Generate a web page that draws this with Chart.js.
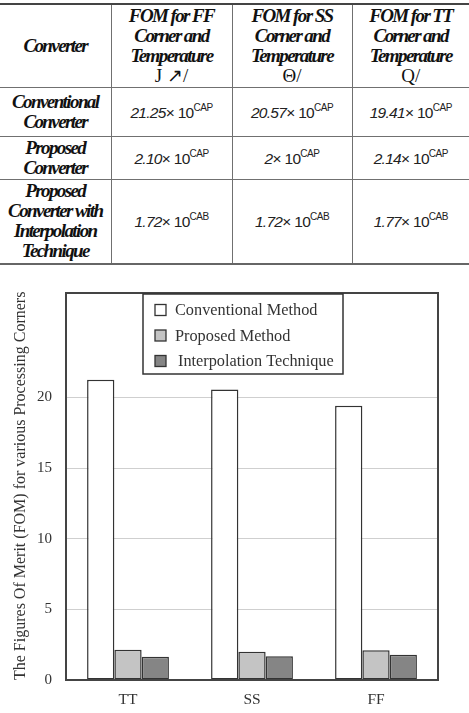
<!DOCTYPE html>
<html>
<head>
<meta charset="utf-8">
<script src="https://cdn.jsdelivr.net/npm/chart.js@4.4.1/dist/chart.umd.min.js"></script>
<style>
  html, body { margin: 0; padding: 0; background: #fff; width: 469px; height: 713px; overflow: hidden; }
  #tbl { position: absolute; left: 0; top: 3px; width: 469px; border-collapse: collapse; table-layout: fixed; }
  #tbl td, #tbl th { border: 1.5px solid #707070; text-align: center; vertical-align: middle; padding: 0; }
  #tbl tr:first-child th { border-top: 2px solid #444; }
  #tbl tr:last-child td, #tbl tr:last-child th { border-bottom: 2px solid #666; }
  #tbl th:first-child, #tbl td:first-child { border-left: none; }
  #tbl th:last-child, #tbl td:last-child { border-right: none; }
  .hd { font-family: "Liberation Serif", serif; font-weight: bold; font-style: italic; font-size: 19px; line-height: 20px; letter-spacing: -1.6px; color: #111; white-space: nowrap; }
  .sym { font-style: normal; font-weight: normal; letter-spacing: 0; }
  .val { font-family: "Liberation Sans", sans-serif; font-size: 15.5px; color: #222; letter-spacing: -0.7px; font-weight: normal; white-space: nowrap; }
  .val i { font-style: italic; }
  .val sup { font-size: 10px; vertical-align: 7px; letter-spacing: -0.5px; }
  #wrap { position: absolute; left: 0; top: 270px; width: 469px; height: 443px; }
</style>
</head>
<body>
<table id="tbl">
  <colgroup><col style="width:111px"><col style="width:121px"><col style="width:120px"><col style="width:117px"></colgroup>
  <tr style="height:83px">
    <th class="hd">Converter</th>
    <th class="hd">FOM for FF<br>Corner and<br>Temperature<br><span class="sym">J ↗/</span></th>
    <th class="hd">FOM for SS<br>Corner and<br>Temperature<br><span class="sym">Θ/</span></th>
    <th class="hd">FOM for TT<br>Corner and<br>Temperature<br><span class="sym">Q/</span></th>
  </tr>
  <tr style="height:49px">
    <th class="hd">Conventional<br>Converter</th>
    <td class="val"><i>21.25</i>× 10<sup>CAP</sup></td>
    <td class="val"><i>20.57</i>× 10<sup>CAP</sup></td>
    <td class="val"><i>19.41</i>× 10<sup>CAP</sup></td>
  </tr>
  <tr style="height:43px">
    <th class="hd">Proposed<br>Converter</th>
    <td class="val"><i>2.10</i>× 10<sup>CAP</sup></td>
    <td class="val"><i>2</i>× 10<sup>CAP</sup></td>
    <td class="val"><i>2.14</i>× 10<sup>CAP</sup></td>
  </tr>
  <tr style="height:85px">
    <th class="hd">Proposed<br>Converter with<br>Interpolation<br>Technique</th>
    <td class="val"><i>1.72</i>× 10<sup>CAB</sup></td>
    <td class="val"><i>1.72</i>× 10<sup>CAB</sup></td>
    <td class="val"><i>1.77</i>× 10<sup>CAB</sup></td>
  </tr>
</table>
<div id="wrap"><canvas id="c" width="469" height="443"></canvas></div>
<script>
const categories = ["TT", "SS", "FF"];
const seriesNames = ["Conventional Method", "Proposed Method", "Interpolation Technique"];
const conventional = [21.25, 20.57, 19.41];
const proposed = [2.14, 2.0, 2.10];
const interpolation = [1.65, 1.68, 1.79];
const yTicks = [0, 5, 10, 15, 20];
const yTitle = "The Figures Of Merit (FOM) for various Processing Corners";

const fills = ["#ffffff", "#c4c4c4", "#858585"];
const SERIF = '"Liberation Serif", "Times New Roman", serif';

const frameAndLegend = {
  id: "frameAndLegend",
  afterDraw(chart) {
    const ctx = chart.ctx;
    const a = chart.chartArea;
    ctx.save();
    ctx.strokeStyle = "#444";
    ctx.lineWidth = 2;
    ctx.strokeRect(a.left, a.top, a.right - a.left, a.bottom - a.top);
    // legend box
    const lx = 143, ly = 24, lw = 200, lh = 80;
    ctx.fillStyle = "#fff";
    ctx.fillRect(lx, ly, lw, lh);
    ctx.strokeStyle = "#333";
    ctx.lineWidth = 1.5;
    ctx.strokeRect(lx, ly, lw, lh);
    ctx.font = "16.3px " + SERIF;
    ctx.textBaseline = "middle";
    chart.data.datasets.forEach((ds, i) => {
      const cy = ly + 16 + i * 25.5;
      ctx.fillStyle = ds.backgroundColor;
      ctx.fillRect(lx + 12, cy - 5.5, 11, 11);
      ctx.strokeStyle = "#333";
      ctx.lineWidth = 1.3;
      ctx.strokeRect(lx + 12, cy - 5.5, 11, 11);
      ctx.fillStyle = "#333";
      ctx.fillText(ds.label, lx + 32 + (i === 2 ? 3 : 0), cy + 1);
    });
    ctx.restore();
  }
};

new Chart(document.getElementById("c"), {
  type: "bar",
  data: {
    labels: categories,
    datasets: [conventional, proposed, interpolation].map((d, i) => ({
      label: seriesNames[i],
      data: d,
      backgroundColor: fills[i],
      borderColor: "#333",
      borderWidth: 1.5,
      borderSkipped: false,
      categoryPercentage: 0.66,
      barPercentage: 1.0
    }))
  },
  options: {
    responsive: false,
    animation: false,
    events: [],
    layout: { padding: { top: 17, right: 31, left: 0, bottom: 0 } },
    plugins: { legend: { display: false }, tooltip: { enabled: false } },
    scales: {
      x: {
        grid: { display: false },
        border: { display: false },
        ticks: { color: "#333", font: { family: SERIF, size: 15.5 }, padding: 3 },
        afterFit(s) { s.height = 33; }
      },
      y: {
        min: 0,
        max: 27.4,
        afterBuildTicks(s) { s.ticks = yTicks.map(v => ({ value: v })); },
        grid: { color: "#cfcfcf", lineWidth: 1, drawTicks: false },
        border: { display: false },
        ticks: { color: "#333", font: { family: SERIF, size: 15 }, padding: 14 },
        title: { display: true, text: yTitle, align: "start", color: "#333", font: { family: SERIF, size: 16 }, padding: { top: 11, bottom: 4 } },
        afterFit(s) { s.width = 66; }
      }
    }
  },
  plugins: [frameAndLegend]
});
</script>
</body>
</html>
